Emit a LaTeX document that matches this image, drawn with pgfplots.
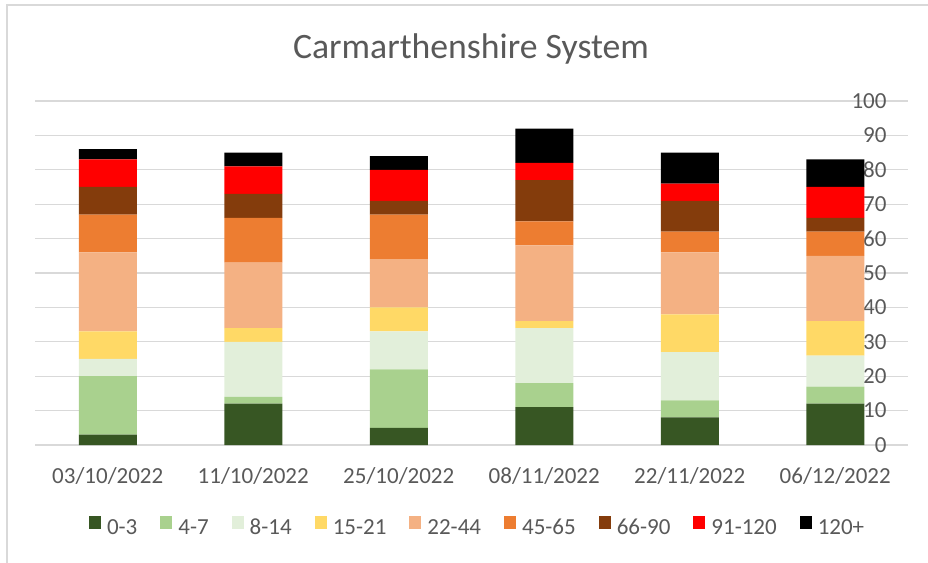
\documentclass[border=0pt]{standalone}
\usepackage{fontspec}
\setmainfont{Carlito}
\usepackage{pgfplots}
\usepackage{pgfplotstable}
\pgfplotsset{compat=1.18}
\definecolor{cA}{HTML}{375623}
\definecolor{cB}{HTML}{A9D18E}
\definecolor{cC}{HTML}{E2EFDA}
\definecolor{cD}{HTML}{FFD966}
\definecolor{cE}{HTML}{F4B183}
\definecolor{cF}{HTML}{ED7D31}
\definecolor{cG}{HTML}{843C0C}
\definecolor{cH}{HTML}{FF0000}
\definecolor{cI}{HTML}{000000}
\definecolor{lbl}{HTML}{595959}
\definecolor{gridc}{HTML}{D9D9D9}

% x: 03/10, 11/10, 25/10, 08/11, 22/11, 06/12
\pgfplotstableread{
x a  b  c  d  e  f  g  h i
0 3  17 5  8  23 11 8  8 3
1 12 2  16 4  19 13 7  8 4
2 5  17 11 7  14 13 4  9 4
3 11 7  16 2  22 7  12 5 10
4 8  5  14 11 18 6  9  5 9
5 12 5  9  10 19 7  4  9 8
}\bands

\begin{document}
\begin{tikzpicture}[x=1pt,y=1pt]
  \useasboundingbox (0,0) rectangle (928,562);
  \draw[gridc,line width=1.3pt] (7,-2) -- (7,557) -- (932,557);
  \node[font=\fontsize{35.7}{40}\selectfont,text=lbl] at (471,513) {Carmarthenshire System};

  \begin{axis}[
    at={(35pt,117pt)},anchor=south west,
    scale only axis,width=873pt,height=344pt,
    ybar stacked,bar width=58pt,
    xmin=-0.5,xmax=5.5,ymin=0,ymax=100,
    xtick={0,...,5},
    xticklabels={03/10/2022,11/10/2022,25/10/2022,08/11/2022,22/11/2022,06/12/2022},
    ytick={0,10,...,100},
    ymajorgrids,grid style={draw=gridc,line width=1.3pt},
    axis line style={draw=none},
    major tick length=0pt,
    yticklabel pos=right,
    yticklabel style={anchor=east,xshift=-18pt},
    xticklabel style={anchor=base,yshift=-38pt},
    tick label style={font=\fontsize{23}{27}\selectfont,text=lbl},
    /pgf/number format/assume math mode=true,
    legend columns=9,
    legend style={draw=none,fill=none,at={(0.507,-0.238)},anchor=center,
      font=\fontsize{23}{27}\selectfont,text=lbl,
      nodes={inner xsep=2pt,inner ysep=1pt},
      /tikz/every odd column/.append style={column sep=4pt},
      /tikz/every even column/.append style={column sep=21pt}},
    legend image code/.code={\fill[#1] (0pt,-1pt) rectangle (12pt,11.5pt);},
  ]
    \addplot[fill=cA,draw=none] table[x=x,y=a] {\bands};
    \addplot[fill=cB,draw=none] table[x=x,y=b] {\bands};
    \addplot[fill=cC,draw=none] table[x=x,y=c] {\bands};
    \addplot[fill=cD,draw=none] table[x=x,y=d] {\bands};
    \addplot[fill=cE,draw=none] table[x=x,y=e] {\bands};
    \addplot[fill=cF,draw=none] table[x=x,y=f] {\bands};
    \addplot[fill=cG,draw=none] table[x=x,y=g] {\bands};
    \addplot[fill=cH,draw=none] table[x=x,y=h] {\bands};
    \addplot[fill=cI,draw=none] table[x=x,y=i] {\bands};
    \legend{0-3,4-7,8-14,15-21,22-44,45-65,66-90,91-120,120+}
  \end{axis}
\end{tikzpicture}
\end{document}
